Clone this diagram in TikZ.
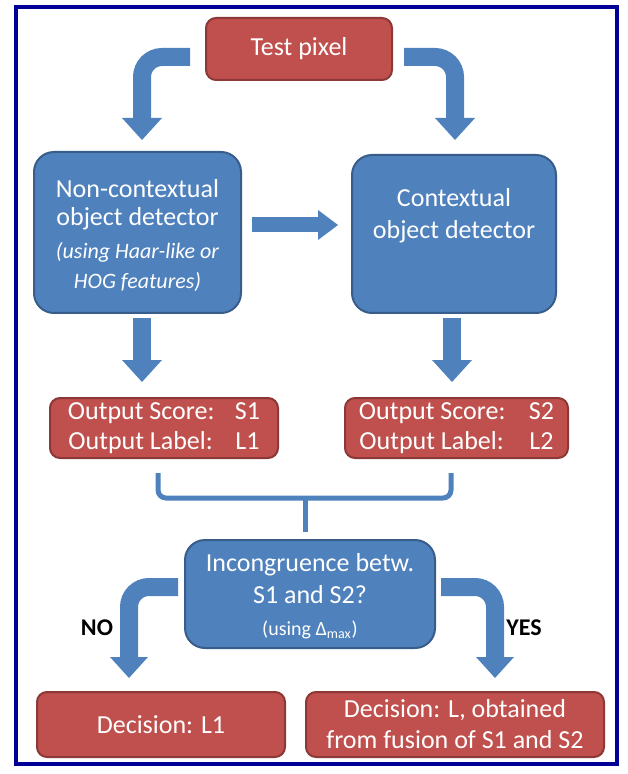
\documentclass[tikz,border=0pt]{standalone}
\usepackage{fontspec}
\setmainfont{Carlito}
\usetikzlibrary{calc}
\definecolor{rfill}{RGB}{192,80,77}
\definecolor{rline}{RGB}{140,56,54}
\definecolor{bfill}{RGB}{79,129,189}
\definecolor{bline}{RGB}{56,93,138}
\definecolor{framecol}{RGB}{0,0,150}
\newcommand\headdown[3]{\fill[bfill] ($(#1)+(-#2,-#3)$) -- ($(#1)+(#2,-#3)$) -- (#1) -- cycle;}
\newcommand\headright[3]{\fill[bfill] ($(#1)+(-#3,-#2)$) -- ($(#1)+(-#3,#2)$) -- (#1) -- cycle;}
\begin{document}
\begin{tikzpicture}[x=0.5pt,y=-0.5pt,
  redbox/.style={draw=rline, line width=1pt, fill=rfill, rounded corners=5pt, text=white,
    font=\fontsize{13}{15}\selectfont, align=center, inner sep=0pt},
  bluebox/.style={draw=bline, line width=1pt, fill=bfill, rounded corners=10pt, text=white,
    font=\fontsize{13}{15}\selectfont, align=center, inner sep=0pt},
  wtext/.style={text=white, align=center, inner sep=0pt},
  bshaft/.style={draw=bfill, line width=9pt, rounded corners=10pt},
  mshaft/.style={draw=bfill, line width=7.5pt},
  brace/.style={draw=bfill, line width=2.5pt, rounded corners=4pt},
  yn/.style={font=\bfseries\fontsize{12}{14}\selectfont, text=black, inner sep=0pt}]
\useasboundingbox (0,0) rectangle (627,774);
\draw[framecol, line width=2pt] (16,7) rectangle (617,764);

% boxes
\node[redbox, minimum width=93pt, minimum height=31pt] (tp) at (299,49) {Test pixel};
\node[bluebox, minimum width=103.5pt, minimum height=80.5pt] (ncd) at (137.5,232.5) {};
\node[wtext, font=\fontsize{13}{14}\selectfont] (ncdt) at (137.5,205) {Non-contextual\\object detector};
\node[wtext, font=\itshape\fontsize{11}{15}\selectfont] (ncdi) at (137.5,267) {(using Haar-like or\\HOG features)};
\node[bluebox, minimum width=102pt, minimum height=79pt] (cd) at (454,234) {};
\node[wtext, font=\fontsize{13}{16}\selectfont] (cdt) at (454,216) {Contextual\\object detector};

\node[redbox, minimum width=114pt, minimum height=30pt] (o1) at (164,428)
  {\makebox[83.5pt][l]{Output Score:}S1\\\makebox[83.5pt][l]{Output Label:}L1};
\node[redbox, minimum width=111.5pt, minimum height=30pt] (o2) at (456.5,428)
  {\makebox[85pt][l]{Output Score:}S2\\\makebox[85pt][l]{Output Label:}L2};

\node[bluebox, minimum width=125pt, minimum height=54pt] (inc) at (310,594) {};
\node[wtext, font=\fontsize{13}{16}\selectfont] (inct) at (310,579) {Incongruence betw.\\S1 and S2?};
\node[wtext, font=\fontsize{10}{12}\selectfont] (incu) at (310,630) {(using Δ\textsubscript{max})};

\node[redbox, minimum width=124pt, minimum height=32.5pt] (d1) at (161,724.5) {Decision: L1};
\node[redbox, minimum width=149pt, minimum height=32.5pt, font=\fontsize{13}{15.5}\selectfont] (d2) at (455,724.5)
  {Decision: L, obtained\\from fusion of S1 and S2};

\node[yn] (no) at (97,628) {NO};
\node[yn] (yes) at (524,628) {YES};

% coordinates for connectors
\coordinate (a1s) at (190,57);  \coordinate (a1b) at (142,57);  \coordinate (a1e) at (142,119); \coordinate (a1t) at (142,140);
\coordinate (a2s) at (404,57);  \coordinate (a2b) at (455,57);  \coordinate (a2e) at (455,119); \coordinate (a2t) at (455,140);
\coordinate (a3s) at (252,225); \coordinate (a3e) at (319,225); \coordinate (a3t) at (338,225);
\coordinate (a4s) at (142,318); \coordinate (a4e) at (142,361); \coordinate (a4t) at (142,382);
\coordinate (a5s) at (452,318); \coordinate (a5e) at (452,361); \coordinate (a5t) at (452,382);
\coordinate (b1) at (158,473); \coordinate (b2) at (158,498); \coordinate (b3) at (451,498); \coordinate (b4) at (451,473);
\coordinate (bm) at (305,498); \coordinate (bs) at (305,532);
\coordinate (a6s) at (178,587); \coordinate (a6b) at (129,587); \coordinate (a6e) at (129,658); \coordinate (a6t) at (129,678);
\coordinate (a7s) at (441,587); \coordinate (a7b) at (495,587); \coordinate (a7e) at (495,658); \coordinate (a7t) at (495,678);

% connectors
\draw[bshaft] (a1s) -- (a1b) -- (a1e); \headdown{a1t}{20}{22}
\draw[bshaft] (a2s) -- (a2b) -- (a2e); \headdown{a2t}{20}{22}
\draw[mshaft] (a3s) -- (a3e); \headright{a3t}{15}{20}
\draw[bshaft] (a4s) -- (a4e); \headdown{a4t}{20}{22}
\draw[bshaft] (a5s) -- (a5e); \headdown{a5t}{20}{22}
\draw[brace] (b1) -- (b2) -- (b3) -- (b4);
\draw[brace] (bm) -- (bs);
\draw[bshaft] (a6s) -- (a6b) -- (a6e); \headdown{a6t}{19}{21}
\draw[bshaft] (a7s) -- (a7b) -- (a7e); \headdown{a7t}{19}{21}
\end{tikzpicture}
\end{document}
